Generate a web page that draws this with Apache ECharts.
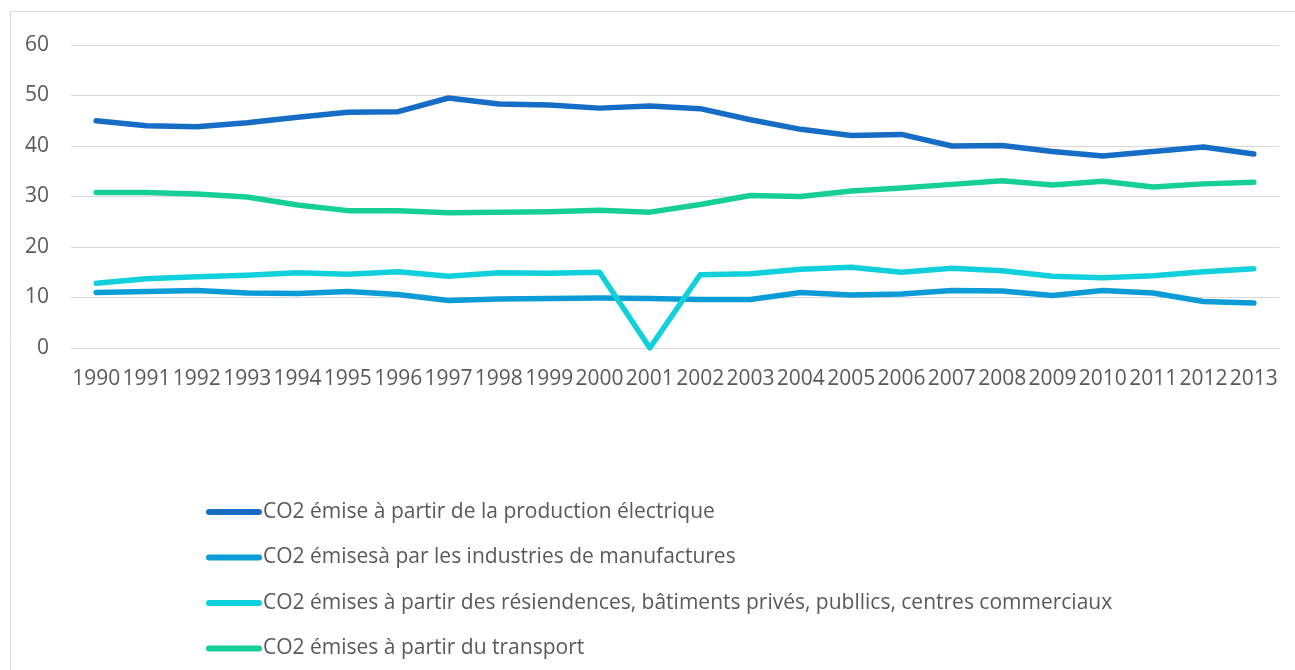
<!DOCTYPE html>
<html>
<head>
<meta charset="utf-8">
<script src="https://cdn.jsdelivr.net/npm/echarts@6/dist/echarts.min.js"></script>
<style>
  html, body { margin: 0; padding: 0; background: #fff; }
  #main { width: 1295px; height: 670px; }
</style>
</head>
<body>
<div id="main"></div>
<script>
// années
const years = ['1990','1991','1992','1993','1994','1995','1996','1997','1998','1999','2000','2001',
  '2002','2003','2004','2005','2006','2007','2008','2009','2010','2011','2012','2013'];

// séries
const electrique = [45.0, 44.0, 43.8, 44.6, 45.7, 46.7, 46.8, 49.5, 48.3, 48.1, 47.5, 47.9,
  47.4, 45.2, 43.3, 42.1, 42.3, 40.0, 40.1, 38.9, 38.0, 38.9, 39.8, 38.4];
const manufactures = [11.0, 11.2, 11.4, 10.9, 10.8, 11.2, 10.6, 9.4, 9.7, 9.8, 9.9, 9.8,
  9.6, 9.6, 11.0, 10.5, 10.7, 11.4, 11.3, 10.4, 11.4, 10.9, 9.2, 8.9];
const residences = [12.8, 13.7, 14.1, 14.4, 14.9, 14.6, 15.1, 14.2, 14.9, 14.8, 15.0, 0,
  14.5, 14.7, 15.6, 16.0, 15.0, 15.8, 15.3, 14.2, 13.9, 14.3, 15.1, 15.7];
const transport = [30.8, 30.8, 30.5, 29.9, 28.3, 27.2, 27.2, 26.8, 26.9, 27.0, 27.3, 26.9,
  28.4, 30.2, 30.0, 31.1, 31.7, 32.4, 33.1, 32.3, 33.0, 31.9, 32.5, 32.8];

const seriesNames = [
  'CO2 émise à partir de la production électrique',
  'CO2 émisesà par les industries de manufactures',
  'CO2 émises à partir des résiendences, bâtiments privés, publlics, centres commerciaux',
  'CO2 émises à partir du transport'
];
const colors = ['#166dc5', '#0b9bd6', '#10d0dc', '#16cf96'];
const seriesData = [electrique, manufactures, residences, transport];

const chart = echarts.init(document.getElementById('main'));

const option = {
  animation: false,
  color: colors,
  textStyle: { fontFamily: 'Open Sans' },
  graphic: [
    {
      type: 'rect',
      shape: { x: 10.5, y: 11.5, width: 1300, height: 700 },
      style: { fill: null, stroke: '#d9d9d9', lineWidth: 1 },
      silent: true
    }
  ],
  grid: {
    left: 71,
    right: 16,
    top: 45,
    bottom: 322
  },
  legend: {
    orient: 'vertical',
    left: 201,
    top: 495,
    itemGap: 21.5,
    itemWidth: 56,
    itemHeight: 6,
    icon: 'path://M3,0 L53,0 A3,3 0 0 1 53,6 L3,6 A3,3 0 0 1 3,0 Z',
    data: seriesNames,
    textStyle: { color: '#595959', fontSize: 21, fontFamily: 'Open Sans', lineHeight: 24, padding: [0, 0, 0, -4] }
  },
  xAxis: {
    type: 'category',
    data: years,
    boundaryGap: true,
    axisLine: { show: false },
    axisTick: { show: false },
    axisLabel: { color: '#595959', fontSize: 21, margin: 21, interval: 0 }
  },
  yAxis: {
    type: 'value',
    min: 0,
    max: 60,
    interval: 10,
    axisLine: { show: false },
    axisTick: { show: false },
    axisLabel: { color: '#595959', fontSize: 21, margin: 22 },
    splitLine: { lineStyle: { color: '#d9d9d9', width: 1 } }
  },
  series: seriesData.map((d, i) => ({
    name: seriesNames[i],
    type: 'line',
    data: d,
    symbol: 'none',
    lineStyle: { width: 5.5, cap: 'round', join: 'round' }
  }))
};

chart.setOption(option);
</script>
</body>
</html>
